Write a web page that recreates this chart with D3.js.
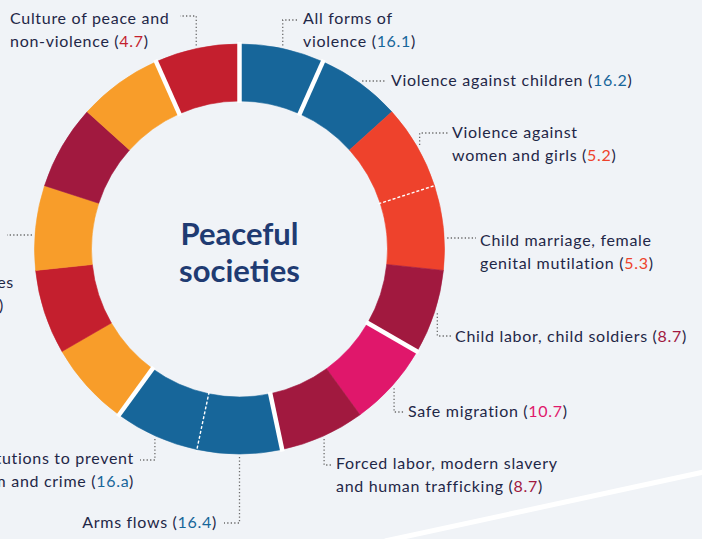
<!DOCTYPE html>
<html>
<head>
<meta charset="utf-8">
<script src="https://cdn.jsdelivr.net/npm/d3@7"></script>
<style>
html, body { margin: 0; padding: 0; background: #f0f3f7; overflow: hidden; }
svg { display: block; }
text { font-family: Lato, "Open Sans", sans-serif; }
</style>
</head>
<body>
<svg id="chart" width="702" height="539"></svg>
<script>
// every target in the ring gets the same share
var goals  = [16, 16, 5, 5, 8, 10, 8, 16, 16, 11, 4, 11, 8, 11, 4];
var groups = [0, 1, 1, 1, 1, 2, 2, 3, 3, 4, 4, 4, 4, 4, 5];

var goalList = [4, 5, 8, 10, 11, 16];
var goalCols = ['#c41f2e', '#ee422c', '#a1193f', '#e0176b', '#f89d2a', '#17669a'];

var labelSeg   = [0, 1, 2, 3, 4, 5, 6, 7, 8, 11, 14];
var labelCodes = ['16.1', '16.2', '5.2', '5.3', '8.7', '10.7', '8.7', '16.4', '16.a', '16.8', '4.7'];
var labelLines = [
  ['All forms of', 'violence'],
  ['Violence against children'],
  ['Violence against', 'women and girls'],
  ['Child marriage, female', 'genital mutilation'],
  ['Child labor, child soldiers'],
  ['Safe migration'],
  ['Forced labor, modern slavery', 'and human trafficking'],
  ['Arms flows'],
  ['Institutions to prevent', 'terrorism and crime'],
  ['Broaden participation', 'in global governance of', 'developing countries', 'and institutions'],
  ['Culture of peace and', 'non-violence']
];
var centerTitle = ['Peaceful', 'societies'];

var W = 702, H = 539;
var cx = 239.5, cy = 249, R = 205, r0 = 148;

var svg = d3.select('#chart');
var col = d3.scaleOrdinal().domain(goalList).range(goalCols);
var textCol = '#1f2747';

// white diagonal stroke bottom right
svg.append('line')
  .attr('x1', 385).attr('y1', H + 2).attr('x2', W + 2).attr('y2', 472)
  .attr('stroke', '#ffffff').attr('stroke-width', 5);

var pie = d3.pie().value(function () { return 1; }).sort(null);
var arcs = pie(goals.map(function (g, i) { return { goal: g, group: groups[i] }; }));
var arc = d3.arc().innerRadius(r0).outerRadius(R);

var g = svg.append('g').attr('transform', 'translate(' + cx + ',' + cy + ')');

g.selectAll('path.seg')
  .data(arcs)
  .enter().append('path')
  .attr('class', 'seg')
  .attr('d', arc)
  .attr('fill', function (d) { return col(d.data.goal); })
  .attr('stroke', function (d) { return col(d.data.goal); })
  .attr('stroke-width', 0.6);

// separators: white gap between groups, dashed line inside a group of the same goal
arcs.forEach(function (d, i) {
  var prev = arcs[(i + arcs.length - 1) % arcs.length];
  var a = d.startAngle;
  var kind = null;
  if (prev.data.group !== d.data.group) kind = 'gap';
  else if (prev.data.goal === d.data.goal) kind = 'dash';
  if (!kind) return;
  var s = Math.sin(a), c = -Math.cos(a);
  var ri = r0 - 2, ro = R + 2;
  var ln = g.append('line')
    .attr('x1', ri * s).attr('y1', ri * c)
    .attr('x2', ro * s).attr('y2', ro * c)
    .attr('stroke', '#ffffff');
  if (kind === 'gap') ln.attr('stroke-width', 4.5);
  else ln.attr('stroke-width', 1.4).attr('stroke-dasharray', '3 2');
});

// centre title
centerTitle.forEach(function (t, j) {
  svg.append('text')
    .attr('x', cx).attr('y', 245 + j * 37)
    .attr('text-anchor', 'middle')
    .attr('font-size', 31).attr('font-weight', 700)
    .attr('fill', '#1f3b72')
    .text(t);
});

// label layout: text position, leader routing
var layout = [
  { x: 303, y: 24, anchor: 'start', mode: 'v', ly: 20, lx: 298 },
  { x: 391, y: 86, anchor: 'start', mode: 'h', ly: 81, lx: 386 },
  { x: 452, y: 138, anchor: 'start', mode: 'v', ly: 133, lx: 448 },
  { x: 480, y: 246, anchor: 'start', mode: 'h', ly: 238, lx: 476 },
  { x: 455, y: 342, anchor: 'start', mode: 'v', ly: 336, lx: 451 },
  { x: 408, y: 417, anchor: 'start', mode: 'v', ly: 412, lx: 404 },
  { x: 336, y: 469, anchor: 'start', mode: 'v', ly: 465, lx: 332 },
  { x: 217, y: 528, anchor: 'end', mode: 'v', ly: 523, lx: 224 },
  { x: 134, y: 464, anchor: 'end', mode: 'v', ly: 460, lx: 140 },
  { x: 2, y: 242, anchor: 'end', mode: 'h', ly: 235, lx: 7, ends: [1, -12, 14, 4] },
  { x: 10, y: 24, anchor: 'start', mode: 'v', ly: 16, lx: 180 }
];
var lineH = 23;

labelSeg.forEach(function (si, k) {
  var d = arcs[si], L = layout[k];
  var mid = (d.startAngle + d.endAngle) / 2;
  var rr = R + 3;
  var pts;
  if (L.mode === 'v') {
    var px = cx + rr * Math.sin(mid), py = cy - rr * Math.cos(mid);
    pts = [[px, py], [px, L.ly], [L.lx, L.ly]];
  } else {
    var side = L.lx > cx ? 1 : -1;
    var ex = cx + side * Math.sqrt(rr * rr - (L.ly - cy) * (L.ly - cy));
    pts = [[ex, L.ly], [L.lx, L.ly]];
  }
  svg.append('path')
    .attr('d', d3.line()(pts))
    .attr('fill', 'none')
    .attr('stroke', '#6a6a6a')
    .attr('stroke-width', 1.3)
    .attr('stroke-dasharray', '1.3 2.2');

  var lines = labelLines[k];
  var code = labelCodes[k];
  var vcol = col(+code.split('.')[0]);
  lines.forEach(function (t, j) {
    var tx = L.ends ? L.ends[j] : L.x;
    var te = svg.append('text')
      .attr('x', tx).attr('y', L.y + j * lineH)
      .attr('text-anchor', L.anchor)
      .attr('font-size', 16)
      .attr('letter-spacing', 0.7)
      .attr('fill', textCol);
    if (j === lines.length - 1) {
      te.append('tspan').text(t + ' (');
      te.append('tspan').attr('fill', vcol).text(code);
      te.append('tspan').text(')');
    } else {
      te.text(t);
    }
  });
});
</script>
</body>
</html>
